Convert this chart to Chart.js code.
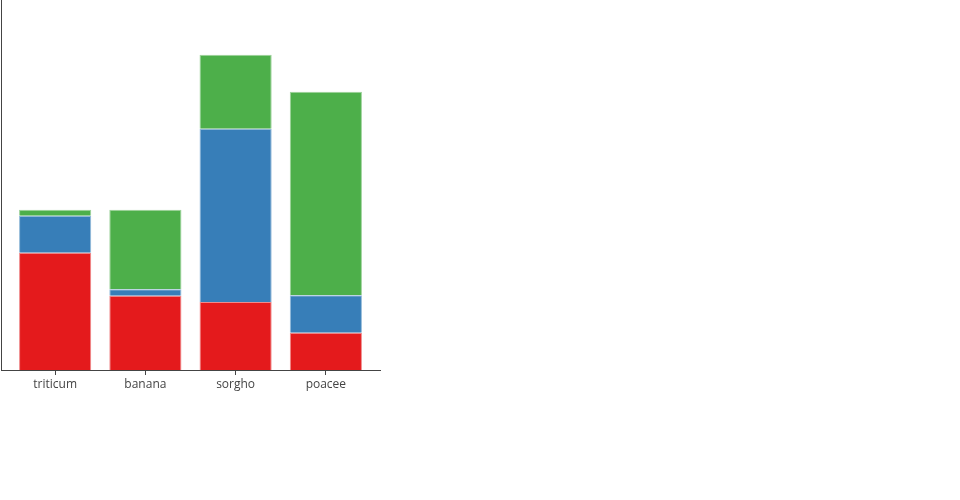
<!DOCTYPE html>
<html>
<head>
<meta charset="utf-8">
<script src="https://cdn.jsdelivr.net/npm/chart.js@4/dist/chart.umd.min.js"></script>
<style>
html,body{margin:0;padding:0;background:#fff;}
#wrap{width:960px;height:500px;}
</style>
</head>
<body>
<div id="wrap"><canvas id="c" width="960" height="500"></canvas></div>
<script>
const categories = ["triticum", "banana", "sorgho", "poacee"];
const redValues = [31.7, 20.1, 18.4, 10.1];
const blueValues = [10.0, 1.7, 46.8, 10.1];
const greenValues = [1.6, 21.5, 20.0, 55.0];
const seriesNames = ["red", "blue", "green"];

function pts(vals){ return vals.map((v,i)=>({x:i, y:v})); }

const bw = {top: 1, left: 1, right: 1, bottom: 0};
new Chart(document.getElementById('c'), {
  type: 'bar',
  data: {
    datasets: [
      {label: seriesNames[0], data: pts(redValues), backgroundColor: '#e41a1c', borderColor: '#ef8a8b', borderWidth: bw, borderSkipped: false},
      {label: seriesNames[1], data: pts(blueValues), backgroundColor: '#377eb8', borderColor: '#93bad9', borderWidth: bw, borderSkipped: false},
      {label: seriesNames[2], data: pts(greenValues), backgroundColor: '#4daf4a', borderColor: '#9ed29c', borderWidth: bw, borderSkipped: false}
    ]
  },
  options: {
    responsive: false,
    animation: false,
    events: [],
    layout: {padding: {left: 0, top: 0, right: 580, bottom: 0}},
    plugins: {legend: {display: false}, tooltip: {enabled: false}},
    datasets: {bar: {barPercentage: 0.8, categoryPercentage: 1.0}},
    scales: {
      x: {
        type: 'linear',
        stacked: true,
        offset: false,
        min: -0.6, max: 3.6,
        afterBuildTicks: s => { s.ticks = categories.map((c,i)=>({value:i})); },
        afterFit: s => { s.height = 130; },
        grid: {display: true, offset: false, drawOnChartArea: false, drawTicks: true, tickLength: 5, color: '#444', lineWidth: 1},
        border: {display: true, color: '#444', width: 1},
        ticks: {
          callback: v => categories[v] !== undefined ? categories[v] : '',
          font: {family: 'Open Sans', size: 12},
          color: '#444',
          padding: 2,
          maxRotation: 0,
          autoSkip: false
        }
      },
      y: {
        stacked: true,
        min: 0, max: 100,
        afterFit: s => { s.width = 1; },
        grid: {display: false},
        border: {display: true, color: '#444', width: 1},
        ticks: {display: false}
      }
    }
  }
});
</script>
</body>
</html>
